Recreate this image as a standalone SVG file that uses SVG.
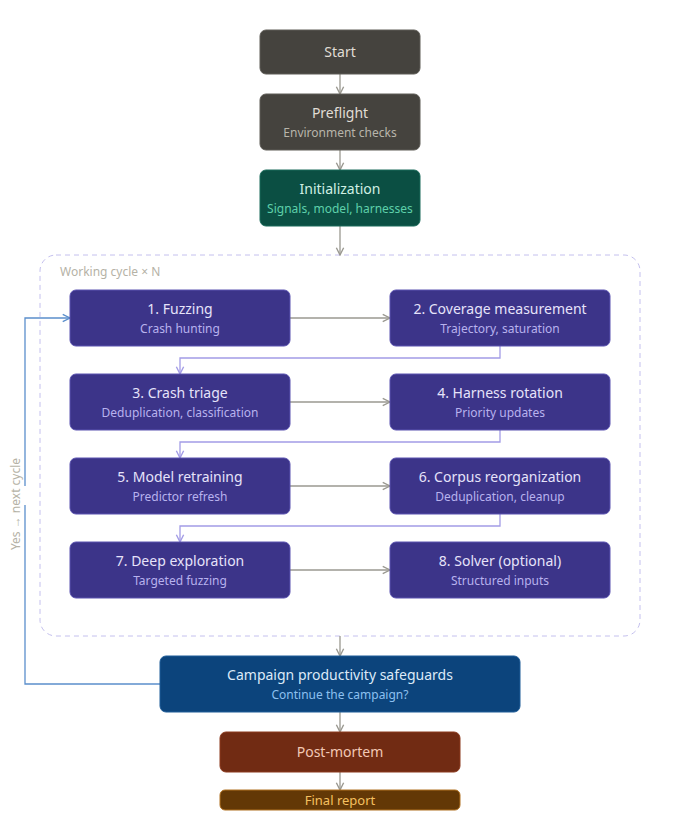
<svg xmlns="http://www.w3.org/2000/svg" width="680" height="820" viewBox="0 0 680 820">
<defs>
<marker id="ag" viewBox="0 0 10 10" refX="9" refY="5" markerWidth="7" markerHeight="7" orient="auto"><path d="M1 1L9 5L1 9" fill="none" stroke="#9a9890" stroke-width="1.5"/></marker>
<marker id="ap" viewBox="0 0 10 10" refX="9" refY="5" markerWidth="7" markerHeight="7" orient="auto"><path d="M1 1L9 5L1 9" fill="none" stroke="#a39ce6" stroke-width="1.5"/></marker>
<marker id="ab" viewBox="0 0 10 10" refX="9" refY="5" markerWidth="7" markerHeight="7" orient="auto"><path d="M1 1L9 5L1 9" fill="none" stroke="#5b8fcc" stroke-width="1.5"/></marker>
</defs>
<style>
text{font-family:"Noto Sans","Open Sans",sans-serif;text-anchor:middle}
.t{font-size:14px}.s{font-size:12px}
.g rect{fill:#45433e;stroke:#5e5c56}.g .t{fill:#e0ddd5}.g .s{fill:#b8b5ab}
.p rect{fill:#3c3489;stroke:#5a52b0}.p .t{fill:#e6e3fa}.p .s{fill:#b8b2ee}
.cg{fill:none;stroke:#9a9890;stroke-width:1.3}
.cp{fill:none;stroke:#a39ce6;stroke-width:1.3}
</style>
<rect x="40" y="255" width="600" height="381" rx="16" fill="none" stroke="#c4c0ee" stroke-dasharray="5 4"/>
<text x="60" y="276" style="font-size:12px;text-anchor:start;fill:#b5b2a6">Working cycle × N</text>
<g id="connectors">
<path class="cg" d="M340 74V94" marker-end="url(#ag)"/>
<path class="cg" d="M340 150V170" marker-end="url(#ag)"/>
<path class="cg" d="M340 226V255" marker-end="url(#ag)"/>
<path class="cg" d="M290 318H390" marker-end="url(#ag)"/>
<path class="cg" d="M290 402H390" marker-end="url(#ag)"/>
<path class="cg" d="M290 486H390" marker-end="url(#ag)"/>
<path class="cg" d="M290 570H390" marker-end="url(#ag)"/>
<path class="cp" d="M500 346V358H180V374" marker-end="url(#ap)"/>
<path class="cp" d="M500 430V442H180V458" marker-end="url(#ap)"/>
<path class="cp" d="M500 514V526H180V542" marker-end="url(#ap)"/>
<path class="cg" d="M340 636V656" marker-end="url(#ag)"/>
<path class="cg" d="M340 712V732" marker-end="url(#ag)"/>
<path class="cg" d="M340 772V790" marker-end="url(#ag)"/>
<path d="M160 684H25V505M25 486V318H70" fill="none" stroke="#5b8fcc" stroke-width="1.3" marker-end="url(#ab)"/>
<text transform="translate(20 504) rotate(-90)" style="font-size:12px;fill:#b5b2a6">Yes → next cycle</text>
</g>
<g id="start" class="g"><rect x="260" y="30" width="160" height="44" rx="6"/><text class="t" x="340" y="57">Start</text></g>
<g id="preflight" class="g"><rect x="260" y="94" width="160" height="56" rx="6"/><text class="t" x="340" y="118">Preflight</text><text class="s" x="340" y="137">Environment checks</text></g>
<g id="init"><rect x="260" y="170" width="160" height="56" rx="6" fill="#0b4f43" stroke="#1a6b5a"/><text class="t" x="340" y="194" fill="#d0f0e4">Initialization</text><text class="s" x="340" y="213" fill="#5ed0aa">Signals, model, harnesses</text></g>
<g id="n1" class="p"><rect x="70" y="290" width="220" height="56" rx="6"/><text class="t" x="180" y="314">1. Fuzzing</text><text class="s" x="180" y="333">Crash hunting</text></g>
<g id="n2" class="p"><rect x="390" y="290" width="220" height="56" rx="6"/><text class="t" x="500" y="314">2. Coverage measurement</text><text class="s" x="500" y="333">Trajectory, saturation</text></g>
<g id="n3" class="p"><rect x="70" y="374" width="220" height="56" rx="6"/><text class="t" x="180" y="398">3. Crash triage</text><text class="s" x="180" y="417">Deduplication, classification</text></g>
<g id="n4" class="p"><rect x="390" y="374" width="220" height="56" rx="6"/><text class="t" x="500" y="398">4. Harness rotation</text><text class="s" x="500" y="417">Priority updates</text></g>
<g id="n5" class="p"><rect x="70" y="458" width="220" height="56" rx="6"/><text class="t" x="180" y="482">5. Model retraining</text><text class="s" x="180" y="501">Predictor refresh</text></g>
<g id="n6" class="p"><rect x="390" y="458" width="220" height="56" rx="6"/><text class="t" x="500" y="482">6. Corpus reorganization</text><text class="s" x="500" y="501">Deduplication, cleanup</text></g>
<g id="n7" class="p"><rect x="70" y="542" width="220" height="56" rx="6"/><text class="t" x="180" y="566">7. Deep exploration</text><text class="s" x="180" y="585">Targeted fuzzing</text></g>
<g id="n8" class="p"><rect x="390" y="542" width="220" height="56" rx="6"/><text class="t" x="500" y="566">8. Solver (optional)</text><text class="s" x="500" y="585">Structured inputs</text></g>
<g id="safeguards"><rect x="160" y="656" width="360" height="56" rx="6" fill="#0c447c" stroke="#1e5c98"/><text class="t" x="340" y="680" fill="#dceaf8">Campaign productivity safeguards</text><text class="s" x="340" y="699" fill="#8cc0f0">Continue the campaign?</text></g>
<g id="postmortem"><rect x="220" y="732" width="240" height="40" rx="6" fill="#712b13" stroke="#8c3a1e"/><text class="t" x="340" y="757" fill="#f2c8b5">Post-mortem</text></g>
<g id="report"><rect x="220" y="790" width="240" height="20" rx="5" fill="#633806" stroke="#b07020"/><text class="t" x="340" y="805" fill="#f5c060" style="font-size:13px">Final report</text></g>
</svg>
